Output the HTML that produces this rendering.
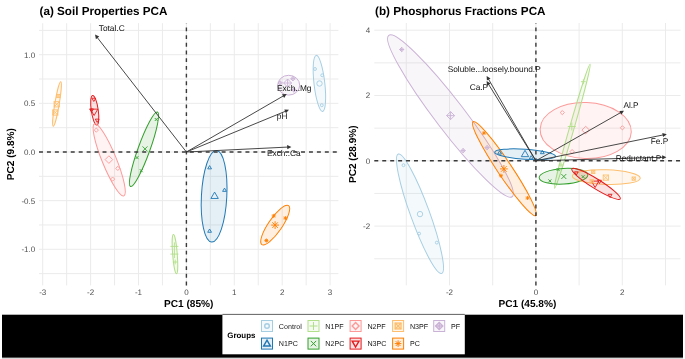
<!DOCTYPE html>
<html><head><meta charset="utf-8"><style>html,body{margin:0;padding:0;background:#fff;}svg{display:block;will-change:transform;text-rendering:geometricPrecision;}</style></head>
<body><svg width="685" height="359" viewBox="0 0 685 359" font-family='"Liberation Sans", sans-serif'><rect x="0" y="0" width="685" height="359" fill="#fff"/><line x1="42.70" y1="23.2" x2="42.70" y2="285.4" stroke="#ebebeb" stroke-width="1.0"/><line x1="66.65" y1="23.2" x2="66.65" y2="285.4" stroke="#ebebeb" stroke-width="1.0"/><line x1="90.60" y1="23.2" x2="90.60" y2="285.4" stroke="#ebebeb" stroke-width="1.0"/><line x1="114.55" y1="23.2" x2="114.55" y2="285.4" stroke="#ebebeb" stroke-width="1.0"/><line x1="138.50" y1="23.2" x2="138.50" y2="285.4" stroke="#ebebeb" stroke-width="1.0"/><line x1="162.45" y1="23.2" x2="162.45" y2="285.4" stroke="#ebebeb" stroke-width="1.0"/><line x1="186.40" y1="23.2" x2="186.40" y2="285.4" stroke="#ebebeb" stroke-width="1.0"/><line x1="210.35" y1="23.2" x2="210.35" y2="285.4" stroke="#ebebeb" stroke-width="1.0"/><line x1="234.30" y1="23.2" x2="234.30" y2="285.4" stroke="#ebebeb" stroke-width="1.0"/><line x1="258.25" y1="23.2" x2="258.25" y2="285.4" stroke="#ebebeb" stroke-width="1.0"/><line x1="282.20" y1="23.2" x2="282.20" y2="285.4" stroke="#ebebeb" stroke-width="1.0"/><line x1="306.15" y1="23.2" x2="306.15" y2="285.4" stroke="#ebebeb" stroke-width="1.0"/><line x1="330.10" y1="23.2" x2="330.10" y2="285.4" stroke="#ebebeb" stroke-width="1.0"/><line x1="39.0" y1="273.62" x2="338.4" y2="273.62" stroke="#ebebeb" stroke-width="1.0"/><line x1="39.0" y1="249.30" x2="338.4" y2="249.30" stroke="#ebebeb" stroke-width="1.0"/><line x1="39.0" y1="224.97" x2="338.4" y2="224.97" stroke="#ebebeb" stroke-width="1.0"/><line x1="39.0" y1="200.65" x2="338.4" y2="200.65" stroke="#ebebeb" stroke-width="1.0"/><line x1="39.0" y1="176.32" x2="338.4" y2="176.32" stroke="#ebebeb" stroke-width="1.0"/><line x1="39.0" y1="152.00" x2="338.4" y2="152.00" stroke="#ebebeb" stroke-width="1.0"/><line x1="39.0" y1="127.67" x2="338.4" y2="127.67" stroke="#ebebeb" stroke-width="1.0"/><line x1="39.0" y1="103.35" x2="338.4" y2="103.35" stroke="#ebebeb" stroke-width="1.0"/><line x1="39.0" y1="79.03" x2="338.4" y2="79.03" stroke="#ebebeb" stroke-width="1.0"/><line x1="39.0" y1="54.70" x2="338.4" y2="54.70" stroke="#ebebeb" stroke-width="1.0"/><line x1="39.0" y1="30.38" x2="338.4" y2="30.38" stroke="#ebebeb" stroke-width="1.0"/><line x1="406.30" y1="23.0" x2="406.30" y2="285.4" stroke="#ebebeb" stroke-width="1.0"/><line x1="449.50" y1="23.0" x2="449.50" y2="285.4" stroke="#ebebeb" stroke-width="1.0"/><line x1="492.70" y1="23.0" x2="492.70" y2="285.4" stroke="#ebebeb" stroke-width="1.0"/><line x1="535.90" y1="23.0" x2="535.90" y2="285.4" stroke="#ebebeb" stroke-width="1.0"/><line x1="579.10" y1="23.0" x2="579.10" y2="285.4" stroke="#ebebeb" stroke-width="1.0"/><line x1="622.30" y1="23.0" x2="622.30" y2="285.4" stroke="#ebebeb" stroke-width="1.0"/><line x1="665.50" y1="23.0" x2="665.50" y2="285.4" stroke="#ebebeb" stroke-width="1.0"/><line x1="374.3" y1="258.75" x2="680.5" y2="258.75" stroke="#ebebeb" stroke-width="1.0"/><line x1="374.3" y1="226.10" x2="680.5" y2="226.10" stroke="#ebebeb" stroke-width="1.0"/><line x1="374.3" y1="193.45" x2="680.5" y2="193.45" stroke="#ebebeb" stroke-width="1.0"/><line x1="374.3" y1="160.80" x2="680.5" y2="160.80" stroke="#ebebeb" stroke-width="1.0"/><line x1="374.3" y1="128.15" x2="680.5" y2="128.15" stroke="#ebebeb" stroke-width="1.0"/><line x1="374.3" y1="95.50" x2="680.5" y2="95.50" stroke="#ebebeb" stroke-width="1.0"/><line x1="374.3" y1="62.85" x2="680.5" y2="62.85" stroke="#ebebeb" stroke-width="1.0"/><line x1="374.3" y1="30.20" x2="680.5" y2="30.20" stroke="#ebebeb" stroke-width="1.0"/><text x="42.70" y="295.40" font-size="8.0" font-weight="normal" fill="#4d4d4d" text-anchor="middle" >-3</text><text x="90.60" y="295.40" font-size="8.0" font-weight="normal" fill="#4d4d4d" text-anchor="middle" >-2</text><text x="138.50" y="295.40" font-size="8.0" font-weight="normal" fill="#4d4d4d" text-anchor="middle" >-1</text><text x="186.40" y="295.40" font-size="8.0" font-weight="normal" fill="#4d4d4d" text-anchor="middle" >0</text><text x="234.30" y="295.40" font-size="8.0" font-weight="normal" fill="#4d4d4d" text-anchor="middle" >1</text><text x="282.20" y="295.40" font-size="8.0" font-weight="normal" fill="#4d4d4d" text-anchor="middle" >2</text><text x="330.10" y="295.40" font-size="8.0" font-weight="normal" fill="#4d4d4d" text-anchor="middle" >3</text><text x="35.20" y="57.60" font-size="8.0" font-weight="normal" fill="#4d4d4d" text-anchor="end" >1.0</text><text x="35.20" y="106.25" font-size="8.0" font-weight="normal" fill="#4d4d4d" text-anchor="end" >0.5</text><text x="35.20" y="154.90" font-size="8.0" font-weight="normal" fill="#4d4d4d" text-anchor="end" >0.0</text><text x="35.20" y="203.55" font-size="8.0" font-weight="normal" fill="#4d4d4d" text-anchor="end" >-0.5</text><text x="35.20" y="252.20" font-size="8.0" font-weight="normal" fill="#4d4d4d" text-anchor="end" >-1.0</text><text x="449.50" y="295.40" font-size="8.0" font-weight="normal" fill="#4d4d4d" text-anchor="middle" >-2</text><text x="535.90" y="295.40" font-size="8.0" font-weight="normal" fill="#4d4d4d" text-anchor="middle" >0</text><text x="622.30" y="295.40" font-size="8.0" font-weight="normal" fill="#4d4d4d" text-anchor="middle" >2</text><text x="370.20" y="33.10" font-size="8.0" font-weight="normal" fill="#4d4d4d" text-anchor="end" >4</text><text x="370.20" y="98.40" font-size="8.0" font-weight="normal" fill="#4d4d4d" text-anchor="end" >2</text><text x="370.20" y="163.70" font-size="8.0" font-weight="normal" fill="#4d4d4d" text-anchor="end" >0</text><text x="370.20" y="229.00" font-size="8.0" font-weight="normal" fill="#4d4d4d" text-anchor="end" >-2</text><text x="39.50" y="15.30" font-size="11.7" font-weight="bold" fill="#000" text-anchor="start" >(a) Soil Properties PCA</text><text x="375.00" y="15.30" font-size="11.72" font-weight="bold" fill="#000" text-anchor="start" >(b) Phosphorus Fractions PCA</text><text x="188.70" y="307.00" font-size="10.1" font-weight="bold" fill="#000" text-anchor="middle" >PC1 (85%)</text><text x="527.40" y="307.00" font-size="10.1" font-weight="bold" fill="#000" text-anchor="middle" >PC1 (45.8%)</text><text x="0.00" y="0.00" font-size="10.1" font-weight="bold" fill="#000" text-anchor="middle" transform="translate(14.4 154.2) rotate(-90)">PC2 (9.8%)</text><text x="0.00" y="0.00" font-size="10.1" font-weight="bold" fill="#000" text-anchor="middle" transform="translate(356.3 154.2) rotate(-90)">PC2 (28.9%)</text><ellipse cx="0" cy="0" rx="22.50" ry="2.20" transform="translate(57.00 104.00) rotate(99.60)" fill="#FDBF6F" fill-opacity="0.12" stroke="#FDBF6F" stroke-width="1"/><ellipse cx="0" cy="0" rx="15.00" ry="3.50" transform="translate(94.75 110.25) rotate(81.80)" fill="#E31A1C" fill-opacity="0.12" stroke="#E31A1C" stroke-width="1"/><ellipse cx="0" cy="0" rx="38.90" ry="7.10" transform="translate(109.20 159.85) rotate(67.80)" fill="#FB9A99" fill-opacity="0.12" stroke="#FB9A99" stroke-width="1"/><ellipse cx="0" cy="0" rx="39.60" ry="5.90" transform="translate(144.00 149.25) rotate(109.90)" fill="#33A02C" fill-opacity="0.12" stroke="#33A02C" stroke-width="1"/><ellipse cx="0" cy="0" rx="19.70" ry="2.30" transform="translate(174.95 254.15) rotate(85.50)" fill="#B2DF8A" fill-opacity="0.12" stroke="#B2DF8A" stroke-width="1"/><ellipse cx="0" cy="0" rx="45.80" ry="12.70" transform="translate(214.10 196.30) rotate(93.00)" fill="#1F78B4" fill-opacity="0.12" stroke="#1F78B4" stroke-width="1"/><ellipse cx="0" cy="0" rx="23.60" ry="6.80" transform="translate(275.20 225.10) rotate(124.50)" fill="#FF7F00" fill-opacity="0.12" stroke="#FF7F00" stroke-width="1"/><ellipse cx="0" cy="0" rx="28.20" ry="5.40" transform="translate(319.40 83.40) rotate(83.50)" fill="#A6CEE3" fill-opacity="0.12" stroke="#A6CEE3" stroke-width="1"/><ellipse cx="0" cy="0" rx="11.00" ry="9.90" transform="translate(288.70 85.20) rotate(0.00)" fill="#CAB2D6" fill-opacity="0.12" stroke="#CAB2D6" stroke-width="1"/><path d="M170.40,246.40H178.40M174.40,242.40V250.40" stroke="#B2DF8A" stroke-width="0.9" fill="none"/><rect x="52.70" y="109.90" width="5.20" height="5.20" stroke="#FDBF6F" stroke-width="0.9" fill="none"/><path d="M52.70,109.90L57.90,115.10M52.70,115.10L57.90,109.90" stroke="#FDBF6F" stroke-width="0.9" fill="none"/><circle cx="315.00" cy="69.00" r="1.45" stroke="#A6CEE3" stroke-width="0.9" fill="none"/><circle cx="322.20" cy="75.30" r="1.45" stroke="#A6CEE3" stroke-width="0.9" fill="none"/><circle cx="321.80" cy="105.20" r="1.45" stroke="#A6CEE3" stroke-width="0.9" fill="none"/><circle cx="319.50" cy="83.50" r="2.70" stroke="#A6CEE3" stroke-width="0.9" fill="none"/><polygon points="209.60,165.60 211.50,168.87 207.70,168.87" stroke="#1F78B4" stroke-width="0.9" fill="none"/><polygon points="224.50,188.10 226.40,191.37 222.60,191.37" stroke="#1F78B4" stroke-width="0.9" fill="none"/><polygon points="209.60,229.00 211.50,232.27 207.70,232.27" stroke="#1F78B4" stroke-width="0.9" fill="none"/><polygon points="214.60,192.10 218.30,198.46 210.90,198.46" stroke="#1F78B4" stroke-width="0.9" fill="none"/><path d="M172.80,262.00H177.60M175.20,259.60V264.40" stroke="#B2DF8A" stroke-width="0.9" fill="none"/><path d="M170.40,254.10H178.40M174.40,250.10V258.10" stroke="#B2DF8A" stroke-width="0.9" fill="none"/><path d="M154.75,118.00L157.75,121.00M154.75,121.00L157.75,118.00" stroke="#33A02C" stroke-width="0.9" fill="none"/><path d="M135.50,156.10L138.50,159.10M135.50,159.10L138.50,156.10" stroke="#33A02C" stroke-width="0.9" fill="none"/><path d="M139.75,169.20L142.75,172.20M139.75,172.20L142.75,169.20" stroke="#33A02C" stroke-width="0.9" fill="none"/><path d="M142.50,146.40L147.50,151.40M142.50,151.40L147.50,146.40" stroke="#33A02C" stroke-width="0.9" fill="none"/><polygon points="96.30,128.00 98.40,130.10 96.30,132.20 94.20,130.10" stroke="#FB9A99" stroke-width="0.9" fill="none"/><polygon points="117.80,166.30 119.90,168.40 117.80,170.50 115.70,168.40" stroke="#FB9A99" stroke-width="0.9" fill="none"/><polygon points="112.60,177.00 114.70,179.10 112.60,181.20 110.50,179.10" stroke="#FB9A99" stroke-width="0.9" fill="none"/><polygon points="108.90,155.80 112.70,159.60 108.90,163.40 105.10,159.60" stroke="#FB9A99" stroke-width="0.9" fill="none"/><polygon points="93.80,101.50 95.70,98.23 91.90,98.23" stroke="#E31A1C" stroke-width="0.9" fill="none"/><polygon points="91.50,112.20 93.40,108.93 89.60,108.93" stroke="#E31A1C" stroke-width="0.9" fill="none"/><polygon points="97.20,122.40 99.10,119.13 95.30,119.13" stroke="#E31A1C" stroke-width="0.9" fill="none"/><polygon points="94.10,115.50 97.80,109.14 90.40,109.14" stroke="#E31A1C" stroke-width="0.9" fill="none"/><rect x="56.70" y="94.40" width="3.20" height="3.20" stroke="#FDBF6F" stroke-width="0.9" fill="none"/><path d="M56.70,94.40L59.90,97.60M56.70,97.60L59.90,94.40" stroke="#FDBF6F" stroke-width="0.9" fill="none"/><rect x="54.10" y="101.70" width="5.20" height="5.20" stroke="#FDBF6F" stroke-width="0.9" fill="none"/><path d="M54.10,101.70L59.30,106.90M54.10,106.90L59.30,101.70" stroke="#FDBF6F" stroke-width="0.9" fill="none"/><path d="M271.70,215.90H275.70M273.70,213.90V217.90M272.26,214.46L275.14,217.34M272.26,217.34L275.14,214.46" stroke="#FF7F00" stroke-width="0.9" fill="none"/><path d="M283.40,218.10H287.40M285.40,216.10V220.10M283.96,216.66L286.84,219.54M283.96,219.54L286.84,216.66" stroke="#FF7F00" stroke-width="0.9" fill="none"/><path d="M264.40,240.50H268.40M266.40,238.50V242.50M264.96,239.06L267.84,241.94M264.96,241.94L267.84,239.06" stroke="#FF7F00" stroke-width="0.9" fill="none"/><path d="M271.20,225.10H279.00M275.10,221.20V229.00M272.29,222.29L277.91,227.91M272.29,227.91L277.91,222.29" stroke="#FF7F00" stroke-width="0.9" fill="none"/><polygon points="292.90,76.50 295.10,78.70 292.90,80.90 290.70,78.70" stroke="#CAB2D6" stroke-width="0.9" fill="none"/><path d="M290.70,78.70H295.10M292.90,76.50V80.90" stroke="#CAB2D6" stroke-width="0.9" fill="none"/><polygon points="280.20,80.80 282.40,83.00 280.20,85.20 278.00,83.00" stroke="#CAB2D6" stroke-width="0.9" fill="none"/><path d="M278.00,83.00H282.40M280.20,80.80V85.20" stroke="#CAB2D6" stroke-width="0.9" fill="none"/><polygon points="294.00,87.80 296.20,90.00 294.00,92.20 291.80,90.00" stroke="#CAB2D6" stroke-width="0.9" fill="none"/><path d="M291.80,90.00H296.20M294.00,87.80V92.20" stroke="#CAB2D6" stroke-width="0.9" fill="none"/><polygon points="287.60,79.00 291.60,83.00 287.60,87.00 283.60,83.00" stroke="#CAB2D6" stroke-width="0.9" fill="none"/><path d="M283.60,83.00H291.60M287.60,79.00V87.00" stroke="#CAB2D6" stroke-width="0.9" fill="none"/><line x1="39.0" y1="152.00" x2="338.4" y2="152.00" stroke="#3a3a3a" stroke-width="1.4" stroke-dasharray="3.97 3.97"/><line x1="186.40" y1="285.4" x2="186.40" y2="23.2" stroke="#3a3a3a" stroke-width="1.4" stroke-dasharray="3.85 3.85"/><line x1="186.40" y1="152.00" x2="96.97" y2="37.13" stroke="#333333" stroke-width="0.9"/><polygon points="95.00,34.60 99.24,36.62 95.92,39.20" fill="#333333"/><text x="98.80" y="31.30" font-size="8.3" font-weight="normal" fill="#111111" text-anchor="start" >Total.C</text><line x1="186.40" y1="152.00" x2="283.93" y2="95.60" stroke="#333333" stroke-width="0.9"/><polygon points="286.70,94.00 284.12,97.92 282.01,94.28" fill="#333333"/><text x="276.90" y="91.00" font-size="8.3" font-weight="normal" fill="#111111" text-anchor="start" >Exch..Mg</text><line x1="186.40" y1="152.00" x2="286.04" y2="111.02" stroke="#333333" stroke-width="0.9"/><polygon points="289.00,109.80 285.91,113.34 284.32,109.46" fill="#333333"/><text x="276.80" y="118.70" font-size="8.3" font-weight="normal" fill="#111111" text-anchor="start" >pH</text><line x1="186.40" y1="152.00" x2="288.20" y2="147.06" stroke="#333333" stroke-width="0.9"/><polygon points="291.40,146.90 287.31,149.20 287.10,145.01" fill="#333333"/><text x="267.00" y="156.00" font-size="8.3" font-weight="normal" fill="#111111" text-anchor="start" >Exch..Ca</text><ellipse cx="0" cy="0" rx="63.50" ry="9.50" transform="translate(420.00 213.70) rotate(70.00)" fill="#A6CEE3" fill-opacity="0.12" stroke="#A6CEE3" stroke-width="1"/><ellipse cx="0" cy="0" rx="101.60" ry="14.80" transform="translate(450.45 116.05) rotate(52.60)" fill="#CAB2D6" fill-opacity="0.12" stroke="#CAB2D6" stroke-width="1"/><ellipse cx="0" cy="0" rx="56.40" ry="7.20" transform="translate(504.40 168.65) rotate(56.20)" fill="#FF7F00" fill-opacity="0.12" stroke="#FF7F00" stroke-width="1"/><ellipse cx="0" cy="0" rx="30.50" ry="5.00" transform="translate(525.10 154.25) rotate(3.90)" fill="#1F78B4" fill-opacity="0.12" stroke="#1F78B4" stroke-width="1"/><ellipse cx="0" cy="0" rx="45.60" ry="28.00" transform="translate(585.70 130.50) rotate(2.00)" fill="#FB9A99" fill-opacity="0.12" stroke="#FB9A99" stroke-width="1"/><ellipse cx="0" cy="0" rx="64.50" ry="2.30" transform="translate(572.30 126.35) rotate(106.00)" fill="#B2DF8A" fill-opacity="0.12" stroke="#B2DF8A" stroke-width="1"/><ellipse cx="0" cy="0" rx="24.40" ry="7.80" transform="translate(563.50 176.30) rotate(-3.50)" fill="#33A02C" fill-opacity="0.12" stroke="#33A02C" stroke-width="1"/><ellipse cx="0" cy="0" rx="34.00" ry="7.30" transform="translate(606.25 177.10) rotate(1.90)" fill="#FDBF6F" fill-opacity="0.12" stroke="#FDBF6F" stroke-width="1"/><ellipse cx="0" cy="0" rx="28.50" ry="4.80" transform="translate(596.05 183.85) rotate(31.90)" fill="#E31A1C" fill-opacity="0.12" stroke="#E31A1C" stroke-width="1"/><circle cx="403.50" cy="165.20" r="1.45" stroke="#A6CEE3" stroke-width="0.9" fill="none"/><circle cx="419.10" cy="233.60" r="1.45" stroke="#A6CEE3" stroke-width="0.9" fill="none"/><circle cx="436.80" cy="242.60" r="1.45" stroke="#A6CEE3" stroke-width="0.9" fill="none"/><circle cx="420.00" cy="214.10" r="2.70" stroke="#A6CEE3" stroke-width="0.9" fill="none"/><polygon points="499.60,150.80 501.50,154.07 497.70,154.07" stroke="#1F78B4" stroke-width="0.9" fill="none"/><polygon points="542.30,150.40 544.20,153.67 540.40,153.67" stroke="#1F78B4" stroke-width="0.9" fill="none"/><polygon points="531.20,155.60 533.10,158.87 529.30,158.87" stroke="#1F78B4" stroke-width="0.9" fill="none"/><polygon points="525.00,150.30 528.70,156.66 521.30,156.66" stroke="#1F78B4" stroke-width="0.9" fill="none"/><path d="M580.90,81.70H585.70M583.30,79.30V84.10" stroke="#B2DF8A" stroke-width="0.9" fill="none"/><path d="M558.60,165.00H563.40M561.00,162.60V167.40" stroke="#B2DF8A" stroke-width="0.9" fill="none"/><path d="M567.80,126.50H575.80M571.80,122.50V130.50" stroke="#B2DF8A" stroke-width="0.9" fill="none"/><path d="M548.40,179.40L551.40,182.40M548.40,182.40L551.40,179.40" stroke="#33A02C" stroke-width="0.9" fill="none"/><path d="M581.60,175.20L584.60,178.20M581.60,178.20L584.60,175.20" stroke="#33A02C" stroke-width="0.9" fill="none"/><path d="M556.60,168.00L559.60,171.00M556.60,171.00L559.60,168.00" stroke="#33A02C" stroke-width="0.9" fill="none"/><path d="M561.30,174.00L566.30,179.00M561.30,179.00L566.30,174.00" stroke="#33A02C" stroke-width="0.9" fill="none"/><polygon points="562.30,110.50 564.40,112.60 562.30,114.70 560.20,112.60" stroke="#FB9A99" stroke-width="0.9" fill="none"/><polygon points="622.40,125.70 624.50,127.80 622.40,129.90 620.30,127.80" stroke="#FB9A99" stroke-width="0.9" fill="none"/><polygon points="572.10,149.50 574.20,151.60 572.10,153.70 570.00,151.60" stroke="#FB9A99" stroke-width="0.9" fill="none"/><polygon points="585.70,126.30 589.50,130.10 585.70,133.90 581.90,130.10" stroke="#FB9A99" stroke-width="0.9" fill="none"/><polygon points="576.30,175.10 578.20,171.83 574.40,171.83" stroke="#E31A1C" stroke-width="0.9" fill="none"/><polygon points="599.50,183.50 601.40,180.23 597.60,180.23" stroke="#E31A1C" stroke-width="0.9" fill="none"/><polygon points="610.10,197.60 612.00,194.33 608.20,194.33" stroke="#E31A1C" stroke-width="0.9" fill="none"/><polygon points="595.10,187.50 598.80,181.14 591.40,181.14" stroke="#E31A1C" stroke-width="0.9" fill="none"/><rect x="591.60" y="170.30" width="3.20" height="3.20" stroke="#FDBF6F" stroke-width="0.9" fill="none"/><path d="M591.60,170.30L594.80,173.50M591.60,173.50L594.80,170.30" stroke="#FDBF6F" stroke-width="0.9" fill="none"/><rect x="632.10" y="177.00" width="3.20" height="3.20" stroke="#FDBF6F" stroke-width="0.9" fill="none"/><path d="M632.10,177.00L635.30,180.20M632.10,180.20L635.30,177.00" stroke="#FDBF6F" stroke-width="0.9" fill="none"/><rect x="590.10" y="179.70" width="3.20" height="3.20" stroke="#FDBF6F" stroke-width="0.9" fill="none"/><path d="M590.10,179.70L593.30,182.90M590.10,182.90L593.30,179.70" stroke="#FDBF6F" stroke-width="0.9" fill="none"/><rect x="603.20" y="175.00" width="5.20" height="5.20" stroke="#FDBF6F" stroke-width="0.9" fill="none"/><path d="M603.20,175.00L608.40,180.20M603.20,180.20L608.40,175.00" stroke="#FDBF6F" stroke-width="0.9" fill="none"/><path d="M481.90,133.10H485.90M483.90,131.10V135.10M482.46,131.66L485.34,134.54M482.46,134.54L485.34,131.66" stroke="#FF7F00" stroke-width="0.9" fill="none"/><path d="M498.90,175.70H502.90M500.90,173.70V177.70M499.46,174.26L502.34,177.14M499.46,177.14L502.34,174.26" stroke="#FF7F00" stroke-width="0.9" fill="none"/><path d="M525.60,198.00H529.60M527.60,196.00V200.00M526.16,196.56L529.04,199.44M526.16,199.44L529.04,196.56" stroke="#FF7F00" stroke-width="0.9" fill="none"/><path d="M500.00,168.90H507.80M503.90,165.00V172.80M501.09,166.09L506.71,171.71M501.09,171.71L506.71,166.09" stroke="#FF7F00" stroke-width="0.9" fill="none"/><polygon points="401.70,47.30 403.90,49.50 401.70,51.70 399.50,49.50" stroke="#CAB2D6" stroke-width="0.9" fill="none"/><path d="M399.50,49.50H403.90M401.70,47.30V51.70" stroke="#CAB2D6" stroke-width="0.9" fill="none"/><polygon points="463.10,148.40 465.30,150.60 463.10,152.80 460.90,150.60" stroke="#CAB2D6" stroke-width="0.9" fill="none"/><path d="M460.90,150.60H465.30M463.10,148.40V152.80" stroke="#CAB2D6" stroke-width="0.9" fill="none"/><polygon points="487.10,145.40 489.30,147.60 487.10,149.80 484.90,147.60" stroke="#CAB2D6" stroke-width="0.9" fill="none"/><path d="M484.90,147.60H489.30M487.10,145.40V149.80" stroke="#CAB2D6" stroke-width="0.9" fill="none"/><polygon points="450.60,111.60 454.60,115.60 450.60,119.60 446.60,115.60" stroke="#CAB2D6" stroke-width="0.9" fill="none"/><path d="M446.60,115.60H454.60M450.60,111.60V119.60" stroke="#CAB2D6" stroke-width="0.9" fill="none"/><line x1="374.3" y1="160.80" x2="680.5" y2="160.80" stroke="#3a3a3a" stroke-width="1.4" stroke-dasharray="3.97 3.97"/><line x1="535.90" y1="285.4" x2="535.90" y2="23.0" stroke="#3a3a3a" stroke-width="1.4" stroke-dasharray="3.85 3.85"/><line x1="535.90" y1="160.80" x2="488.21" y2="78.67" stroke="#333333" stroke-width="0.9"/><polygon points="486.60,75.90 490.53,78.48 486.89,80.59" fill="#333333"/><text x="447.70" y="72.30" font-size="8.3" font-weight="normal" fill="#111111" text-anchor="start" >Soluble...loosely.bound.P</text><line x1="535.90" y1="160.80" x2="488.28" y2="83.82" stroke="#333333" stroke-width="0.9"/><polygon points="486.60,81.10 490.60,83.57 487.02,85.78" fill="#333333"/><text x="469.70" y="90.30" font-size="8.3" font-weight="normal" fill="#111111" text-anchor="start" >Ca.P</text><line x1="535.90" y1="160.80" x2="621.22" y2="112.28" stroke="#333333" stroke-width="0.9"/><polygon points="624.00,110.70 621.39,114.60 619.31,110.95" fill="#333333"/><text x="623.40" y="107.90" font-size="8.3" font-weight="normal" fill="#111111" text-anchor="start" >Al.P</text><line x1="535.90" y1="160.80" x2="663.66" y2="134.84" stroke="#333333" stroke-width="0.9"/><polygon points="666.80,134.20 663.10,137.09 662.27,132.98" fill="#333333"/><text x="650.70" y="144.10" font-size="8.3" font-weight="normal" fill="#111111" text-anchor="start" >Fe.P</text><line x1="535.90" y1="160.80" x2="663.20" y2="157.29" stroke="#333333" stroke-width="0.9"/><polygon points="666.40,157.20 662.26,159.42 662.14,155.22" fill="#333333"/><text x="615.70" y="160.80" font-size="8.3" font-weight="normal" fill="#111111" text-anchor="start" >Reductant.P</text><rect x="2" y="314.7" width="681" height="43.1" fill="#000"/><rect x="2" y="357.8" width="681" height="1.2" fill="#d8d8d8"/><rect x="222.4" y="314.3" width="242.4" height="40" fill="#fff"/><rect x="222.4" y="313.9" width="242.4" height="0.9" fill="#555"/><text x="227.30" y="338.00" font-size="7.9" font-weight="bold" fill="#000" text-anchor="start" >Groups</text><rect x="261.50" y="320.50" width="11" height="11" fill="#A6CEE3" fill-opacity="0.12" stroke="#A6CEE3" stroke-width="1"/><circle cx="267.00" cy="326.00" r="2.30" stroke="#A6CEE3" stroke-width="1.4" fill="none"/><text x="278.80" y="328.70" font-size="7.15" font-weight="normal" fill="#1a1a1a" text-anchor="start" >Control</text><rect x="308.00" y="320.50" width="11" height="11" fill="#B2DF8A" fill-opacity="0.12" stroke="#B2DF8A" stroke-width="1"/><path d="M309.50,326.00H317.50M313.50,322.00V330.00" stroke="#B2DF8A" stroke-width="1.0" fill="none"/><text x="325.30" y="328.70" font-size="7.15" font-weight="normal" fill="#1a1a1a" text-anchor="start" >N1PF</text><rect x="350.10" y="320.50" width="11" height="11" fill="#FB9A99" fill-opacity="0.12" stroke="#FB9A99" stroke-width="1"/><polygon points="355.60,322.60 359.00,326.00 355.60,329.40 352.20,326.00" stroke="#FB9A99" stroke-width="1.4" fill="none"/><text x="367.40" y="328.70" font-size="7.15" font-weight="normal" fill="#1a1a1a" text-anchor="start" >N2PF</text><rect x="392.60" y="320.50" width="11" height="11" fill="#FDBF6F" fill-opacity="0.12" stroke="#FDBF6F" stroke-width="1"/><rect x="395.20" y="323.10" width="5.80" height="5.80" stroke="#FDBF6F" stroke-width="1.4" fill="none"/><path d="M395.20,323.10L401.00,328.90M395.20,328.90L401.00,323.10" stroke="#FDBF6F" stroke-width="1.4" fill="none"/><text x="409.90" y="328.70" font-size="7.15" font-weight="normal" fill="#1a1a1a" text-anchor="start" >N3PF</text><rect x="433.70" y="320.50" width="11" height="11" fill="#CAB2D6" fill-opacity="0.12" stroke="#CAB2D6" stroke-width="1"/><polygon points="439.20,322.40 442.80,326.00 439.20,329.60 435.60,326.00" stroke="#CAB2D6" stroke-width="1.4" fill="none"/><path d="M435.60,326.00H442.80M439.20,322.40V329.60" stroke="#CAB2D6" stroke-width="1.4" fill="none"/><text x="451.00" y="328.70" font-size="7.15" font-weight="normal" fill="#1a1a1a" text-anchor="start" >PF</text><rect x="261.50" y="338.10" width="11" height="11" fill="#1F78B4" fill-opacity="0.12" stroke="#1F78B4" stroke-width="1"/><polygon points="267.00,340.20 270.40,346.05 263.60,346.05" stroke="#1F78B4" stroke-width="1.4" fill="none"/><text x="278.80" y="346.30" font-size="7.15" font-weight="normal" fill="#1a1a1a" text-anchor="start" >N1PC</text><rect x="308.00" y="338.10" width="11" height="11" fill="#33A02C" fill-opacity="0.12" stroke="#33A02C" stroke-width="1"/><path d="M310.80,340.90L316.20,346.30M310.80,346.30L316.20,340.90" stroke="#33A02C" stroke-width="1.0" fill="none"/><text x="325.30" y="346.30" font-size="7.15" font-weight="normal" fill="#1a1a1a" text-anchor="start" >N2PC</text><rect x="350.10" y="338.10" width="11" height="11" fill="#E31A1C" fill-opacity="0.12" stroke="#E31A1C" stroke-width="1"/><polygon points="355.60,347.00 359.00,341.15 352.20,341.15" stroke="#E31A1C" stroke-width="1.4" fill="none"/><text x="367.40" y="346.30" font-size="7.15" font-weight="normal" fill="#1a1a1a" text-anchor="start" >N3PC</text><rect x="392.60" y="338.10" width="11" height="11" fill="#FF7F00" fill-opacity="0.12" stroke="#FF7F00" stroke-width="1"/><path d="M394.80,343.60H401.40M398.10,340.30V346.90M395.72,341.22L400.48,345.98M395.72,345.98L400.48,341.22" stroke="#FF7F00" stroke-width="1.0" fill="none"/><text x="409.90" y="346.30" font-size="7.15" font-weight="normal" fill="#1a1a1a" text-anchor="start" >PC</text></svg></body></html>
